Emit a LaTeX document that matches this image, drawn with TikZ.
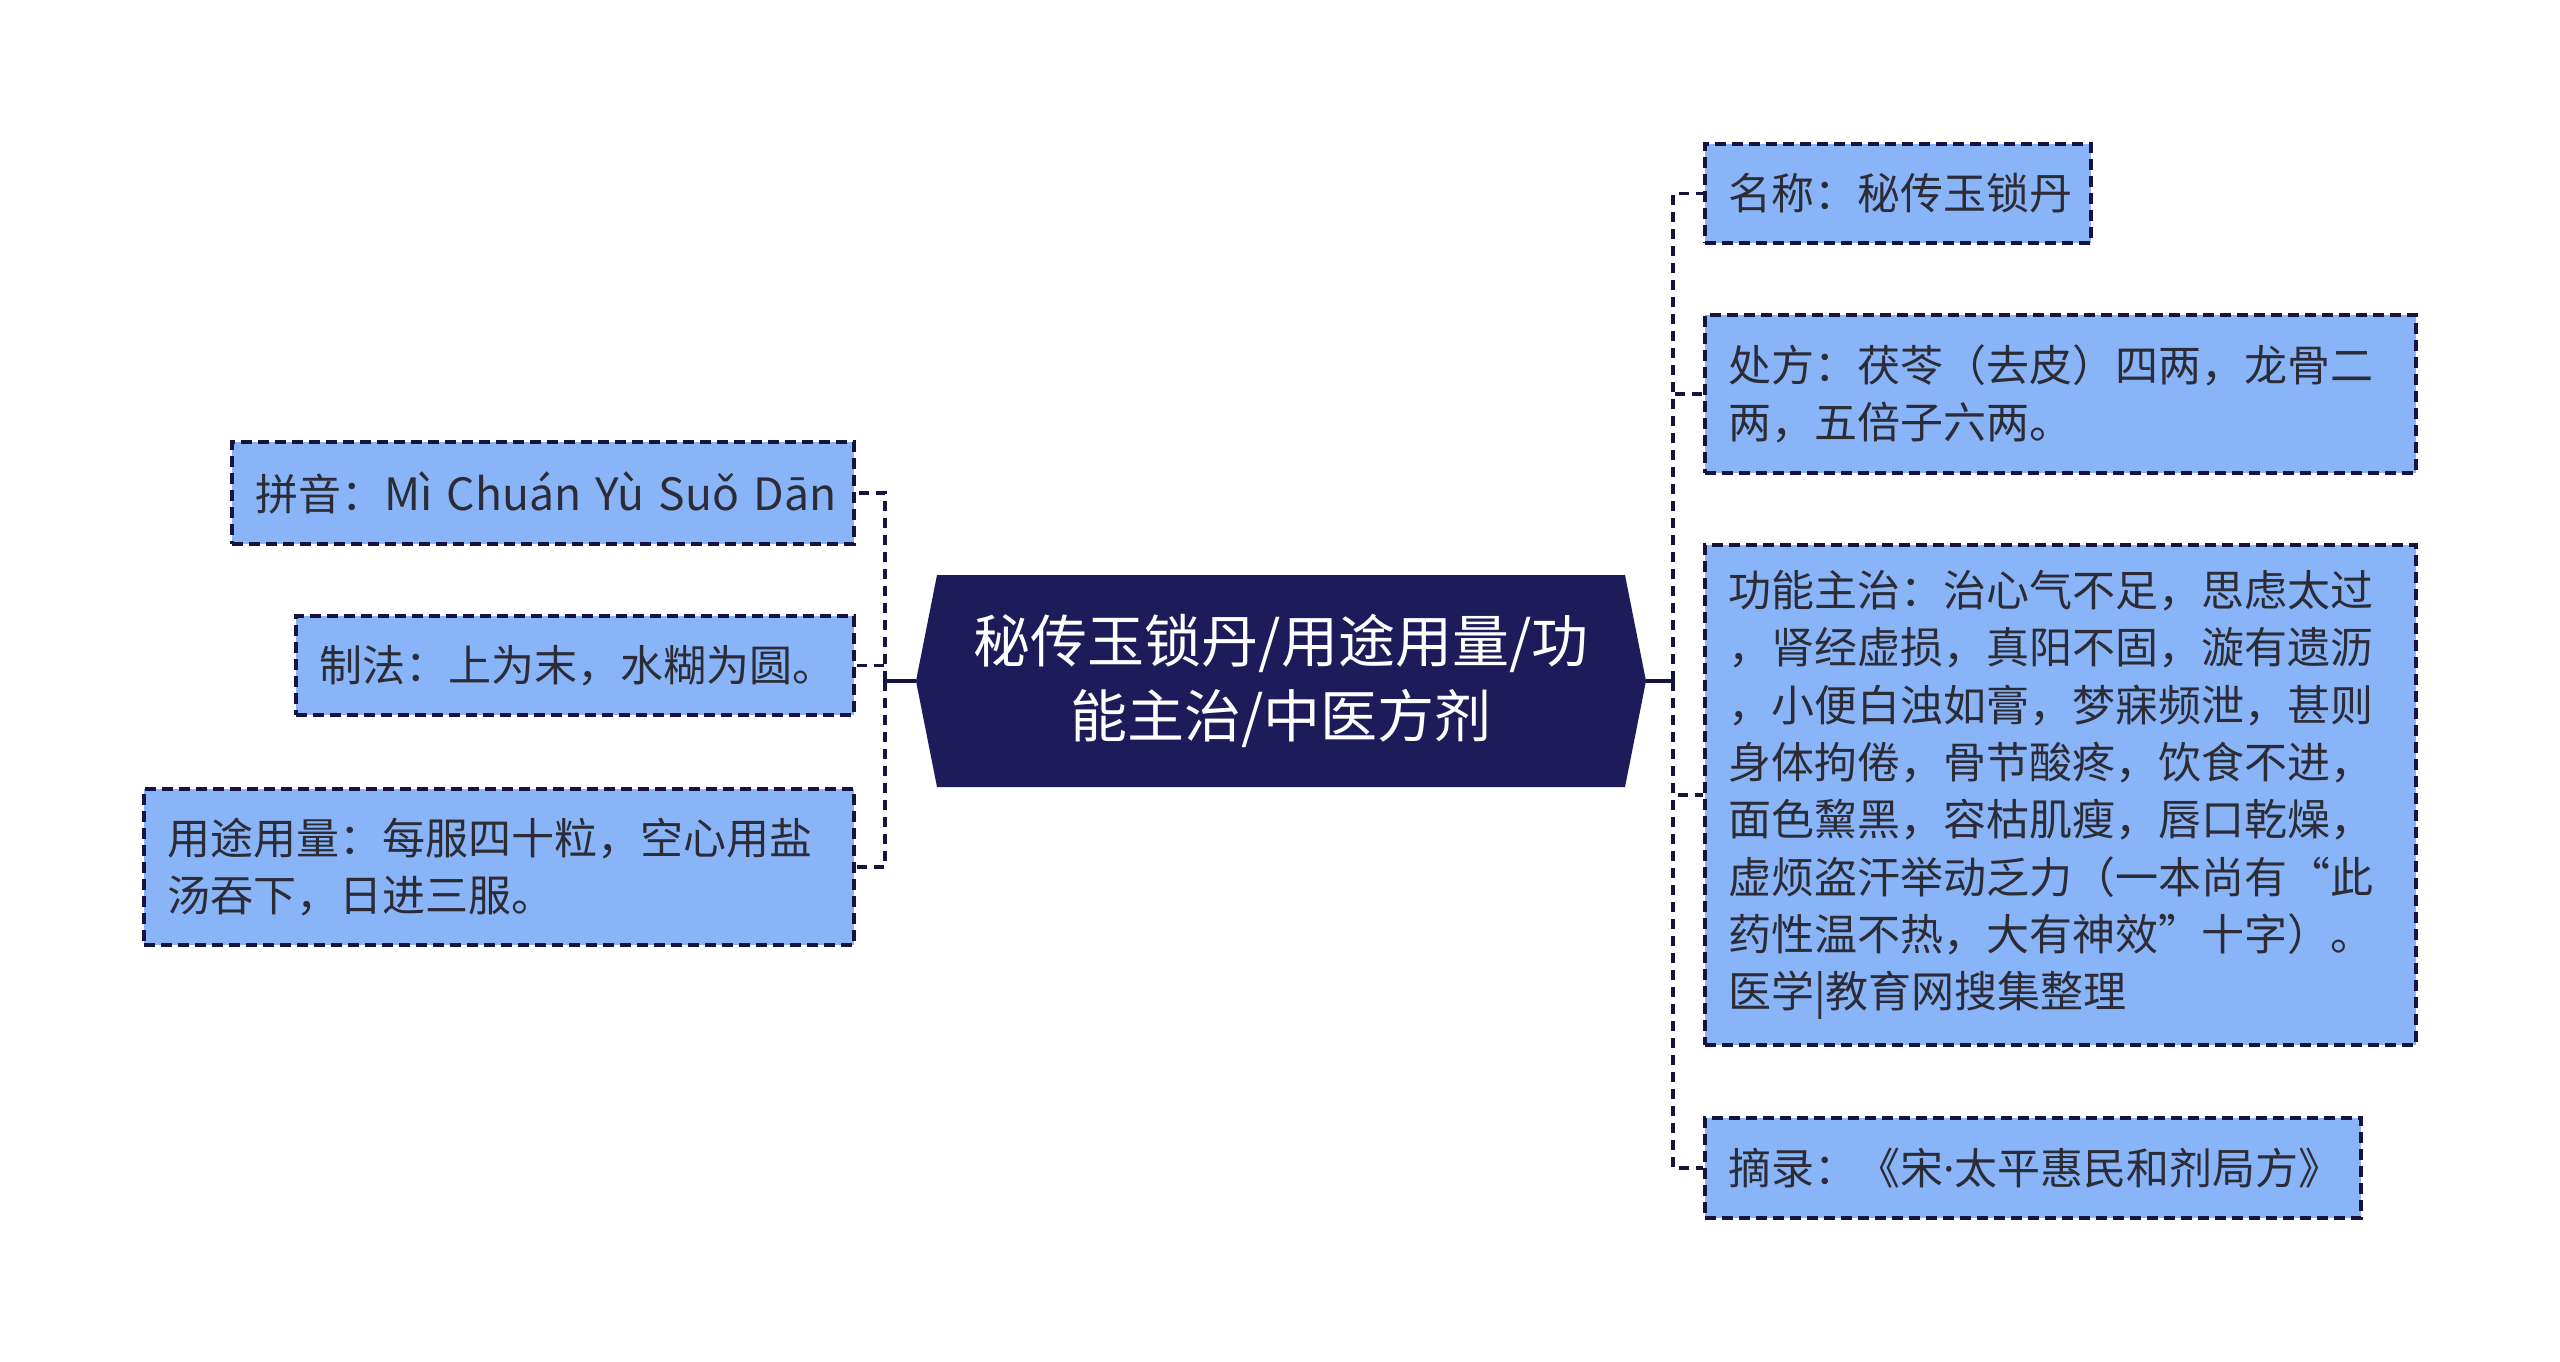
\documentclass[tikz,border=0pt]{standalone}
\usepackage{fontspec}
\setmainfont{Noto Sans CJK SC}
\newfontfamily\latinf{Noto Sans}
\definecolor{navy}{HTML}{1E1B5A}
\definecolor{edge}{HTML}{14143F}
\definecolor{leafblue}{HTML}{8AB4F8}
\definecolor{txtc}{HTML}{2C2C36}
\begin{document}
\begin{tikzpicture}[x=1pt,y=-1pt,
  leaf/.style={draw=edge, fill=leafblue, line width=3.2pt, dash pattern=on 11pt off 6pt,
    inner xsep=23pt, inner ysep=0pt, align=left, text=txtc,
    font=\fontsize{43}{57.3}\selectfont},
  conn/.style={draw=edge, line width=3.5pt, dash pattern=on 10pt off 7pt},
  trunk/.style={draw=edge, line width=3.5pt},
]
\useasboundingbox[fill=white] (0,0) rectangle (2560,1361);

% central node
\fill[navy] (937,575) -- (1625,575) -- (1646,681) -- (1625,787) -- (937,787) -- (916,681) -- cycle;
\node[text=white, align=center, font=\fontsize{57}{75}\selectfont] (c) at (1281,681)
  {秘传玉锁丹/用途用量/功\\能主治/中医方剂};
\coordinate (cL) at (916,681);
\coordinate (cR) at (1646,681);
\coordinate (jL) at (885,681);
\coordinate (jR) at (1673,681);

% left leaves
\node[leaf, text width=576pt, minimum height=102pt] (py) at (543,493) {\mbox{拼音：{\fontsize{44.5}{57}\selectfont Mì Chuán Yù Suǒ Dān}}};
\node[leaf, text width=512pt, minimum height=99pt] (zf) at (575,665.5) {制法：上为末，水糊为圆。};
\node[leaf, text width=664pt, minimum height=156pt] (yt) at (499,867) {用途用量：每服四十粒，空心用盐\\汤吞下，日进三服。};

% right leaves
\node[leaf, text width=340pt, minimum height=99pt] (mc) at (1898,193.5) {名称：秘传玉锁丹};
\node[leaf, text width=665pt, minimum height=158pt] (cf) at (2060.5,394) {处方：茯苓（去皮）四两，龙骨二\\两，五倍子六两。};
\node[leaf, text width=665pt, minimum height=500pt] (gn) at (2060.5,795) {功能主治：治心气不足，思虑太过\\，肾经虚损，真阳不固，漩有遗沥\\，小便白浊如膏，梦寐频泄，甚则\\身体拘倦，骨节酸疼，饮食不进，\\面色黧黑，容枯肌瘦，唇口乾燥，\\虚烦盗汗举动乏力（一本尚有“此\\药性温不热，大有神效”十字）。\\医学|教育网搜集整理};
\node[leaf, text width=610pt, minimum height=100pt] (zl) at (2033,1168) {摘录：《宋{\latinf ·}太平惠民和剂局方》};

% connectors
\draw[trunk] (cL) -- (jL);
\draw[trunk] (cR) -- (jR);
\draw[conn] (jL) |- (py.east);
\draw[conn] (jL) |- (zf.east);
\draw[conn] (jL) |- (yt.east);
\draw[conn] (jR) |- (mc.west);
\draw[conn] (jR) |- (cf.west);
\draw[conn] (jR) |- (gn.west);
\draw[conn] (jR) |- (zl.west);
\end{tikzpicture}
\end{document}
